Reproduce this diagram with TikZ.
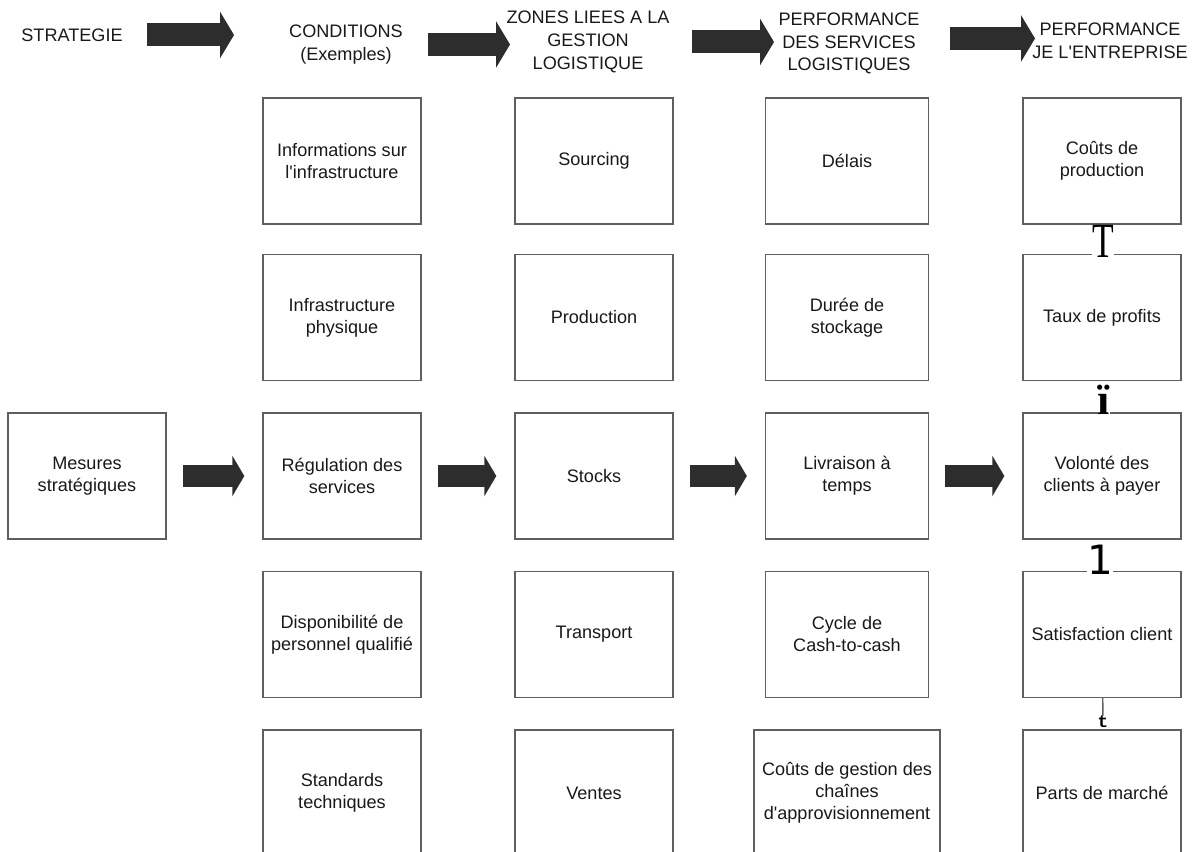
\documentclass[tikz,border=0pt]{standalone}
\usepackage{fontspec}
\setmainfont{Liberation Sans}
\setmonofont{Liberation Mono}
\newfontfamily\glyphserif{Liberation Serif}
\newfontfamily\glyphsans{DejaVu Sans}
\usepackage{graphicx}
\usetikzlibrary{arrows.meta}
\definecolor{boxgray}{RGB}{95,95,95}
\definecolor{arrowgray}{RGB}{45,45,45}
\definecolor{inkblack}{RGB}{25,25,25}
\newcommand{\apos}{\textquotesingle}

\begin{document}
\begin{tikzpicture}[x=0.02cm, y=-0.02cm,
    box/.style={rectangle, draw=boxgray, line width=0.8pt, minimum width=3.16cm, minimum height=2.52cm, align=center, text=inkblack, font=\fontsize{10.3}{12.5}\selectfont},
    boxw/.style={box, minimum width=3.26cm},
    head/.style={align=center, text=inkblack, inner sep=0pt, font=\fontsize{10.3}{13}\selectfont},
    hdarrow/.style={draw=arrowgray, line width=0.46cm, -{Triangle[length=0.28cm, width=0.92cm]}},
    midarrow/.style={draw=arrowgray, line width=0.44cm, -{Triangle[length=0.24cm, width=0.8cm]}, shorten <=0.32cm, shorten >=0.36cm},
    glyph/.style={fill=white, inner sep=0pt, text=black}
]
\useasboundingbox (0,0) rectangle (1192,851);
\clip (0,0) rectangle (1192,851);

% Column headers
\node[head] at (72,35)     (strat) {STRATEGIE};
\node[head] at (346,44.5)  (cond)  {CONDITIONS\\(Exemples)};
\node[head] at (588,42)    (zones) {ZONES LIEES A LA\\GESTION\\LOGISTIQUE};
\node[head] at (849,43.5)  (perf)  {PERFORMANCE\\DES SERVICES\\LOGISTIQUES};
\node[head] at (1110,40.5) (ent)   {PERFORMANCE\\JE L\apos ENTREPRISE};

% Strategy
\node[box] at (87,476) (mes) {Mesures\\stratégiques};

% Conditions
\node[box] at (342,161)   (info)  {Informations sur\\l\apos infrastructure};
\node[box] at (342,317.5) (infra) {Infrastructure\\physique};
\node[box] at (342,476)   (reg)   {Régulation des\\services};
\node[box] at (342,634.5) (dispo) {Disponibilité de\\personnel qualifié};
\node[box] at (342,793)   (std)   {Standards\\techniques};

% Zones logistiques
\node[box] at (594,161)   (sourc) {Sourcing};
\node[box] at (594,317.5) (prod)  {Production};
\node[box] at (594,476)   (stock) {Stocks};
\node[box] at (594,634.5) (transp){Transport};
\node[box] at (594,793)   (vente) {Ventes};

% Performance des services
\node[boxw] at (847,161)   (delai) {Délais};
\node[boxw] at (847,317.5) (duree) {Durée de\\stockage};
\node[boxw] at (847,476)   (livr)  {Livraison à\\temps};
\node[boxw] at (847,634.5) (cycle) {Cycle de\\Cash-to-cash};
\node[box, minimum width=3.72cm] at (847,793) (couts) {Coûts de gestion des\\chaînes\\d\apos approvisionnement};

% Performance de l'entreprise
\node[box] at (1102,161)   (cprod) {Coûts de\\production};
\node[box] at (1102,317.5) (taux)  {Taux de profits};
\node[box] at (1102,476)   (volo)  {Volonté des\\clients à payer};
\node[box] at (1102,634.5) (satis) {Satisfaction client};
\node[box] at (1102,793)   (parts) {Parts de marché};

% Links in the last column
\node[glyph, anchor=north, font=\glyphserif\fontsize{28}{28}\selectfont] at (1103,225) (jT) {\scalebox{0.72}[1]{T}};
\node[glyph, anchor=base, font=\glyphserif\bfseries\fontsize{25}{25}\selectfont] at (1104,414) (ji) {ï};
\node[glyph, anchor=base, font=\glyphsans\fontsize{23}{23}\selectfont] at (1100,574) (j1) {1};
\node[glyph, font=\ttfamily\bfseries\fontsize{10}{10}\selectfont] at (1103,722) (jt) {t};
\draw[draw=boxgray, line width=0.8pt] (satis) -- (jt);

% Header arrows
\draw[hdarrow, shorten <=1.5cm, shorten >=2.24cm] (strat.center) -- (strat.center -| cond.center);
\draw[hdarrow, shorten <=1.64cm, shorten >=1.56cm] (cond.center) -- (cond.center -| zones.center);
\draw[hdarrow, shorten <=2.08cm, shorten >=1.5cm] (zones.center) -- (zones.center -| perf.center);
\draw[hdarrow, shorten <=2.02cm, shorten >=1.5cm] ([yshift=0.1cm]perf.center) -- ([yshift=0.1cm]perf.center -| ent.center);

% Middle row arrows
\draw[midarrow] (mes)   -- (reg);
\draw[midarrow] (reg)   -- (stock);
\draw[midarrow] (stock) -- (livr);
\draw[midarrow] (livr)  -- (volo);
\end{tikzpicture}
\end{document}
